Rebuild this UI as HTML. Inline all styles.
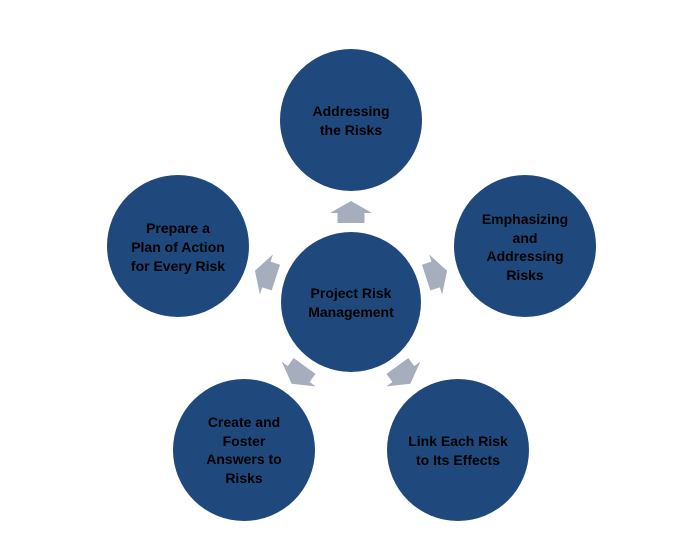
<!DOCTYPE html>
<html><head><style>html,body{margin:0;padding:0;background:#fff}</style></head>
<body>
<svg width="697" height="553" viewBox="0 0 697 553" xmlns="http://www.w3.org/2000/svg" font-family="'Liberation Sans', sans-serif" font-weight="bold" font-size="14" text-anchor="middle">
<defs>
<polygon id="ar" points="-13.5,-79 13.5,-79 13.5,-89 21,-89 0,-101 -21,-89 -13.5,-89" fill="#a6adbd"/>
</defs>
<g transform="translate(351,302)">
<use href="#ar"/>
<use href="#ar" transform="rotate(72)"/>
<use href="#ar" transform="rotate(144)"/>
<use href="#ar" transform="rotate(216)"/>
<use href="#ar" transform="rotate(288)"/>
</g>
<g fill="#1f497d">
<circle cx="351" cy="302" r="70"/>
<circle cx="351" cy="120" r="71"/>
<circle cx="525" cy="246" r="71"/>
<circle cx="178" cy="246" r="71"/>
<circle cx="244" cy="450" r="71"/>
<circle cx="458" cy="450" r="71"/>
</g>
<g fill="#000">
<text x="351" y="298">Project Risk</text><text x="351" y="317">Management</text>
<text x="351" y="116">Addressing</text><text x="351" y="135">the Risks</text>
<text x="525" y="224">Emphasizing</text><text x="525" y="243">and</text><text x="525" y="261">Addressing</text><text x="525" y="280">Risks</text>
<text x="178" y="233">Prepare a</text><text x="178" y="252">Plan of Action</text><text x="178" y="271">for Every Risk</text>
<text x="244" y="427">Create and</text><text x="244" y="446">Foster</text><text x="244" y="464">Answers to</text><text x="244" y="483">Risks</text>
<text x="458" y="446">Link Each Risk</text><text x="458" y="465">to Its Effects</text>
</g>
</svg>
</body></html>
